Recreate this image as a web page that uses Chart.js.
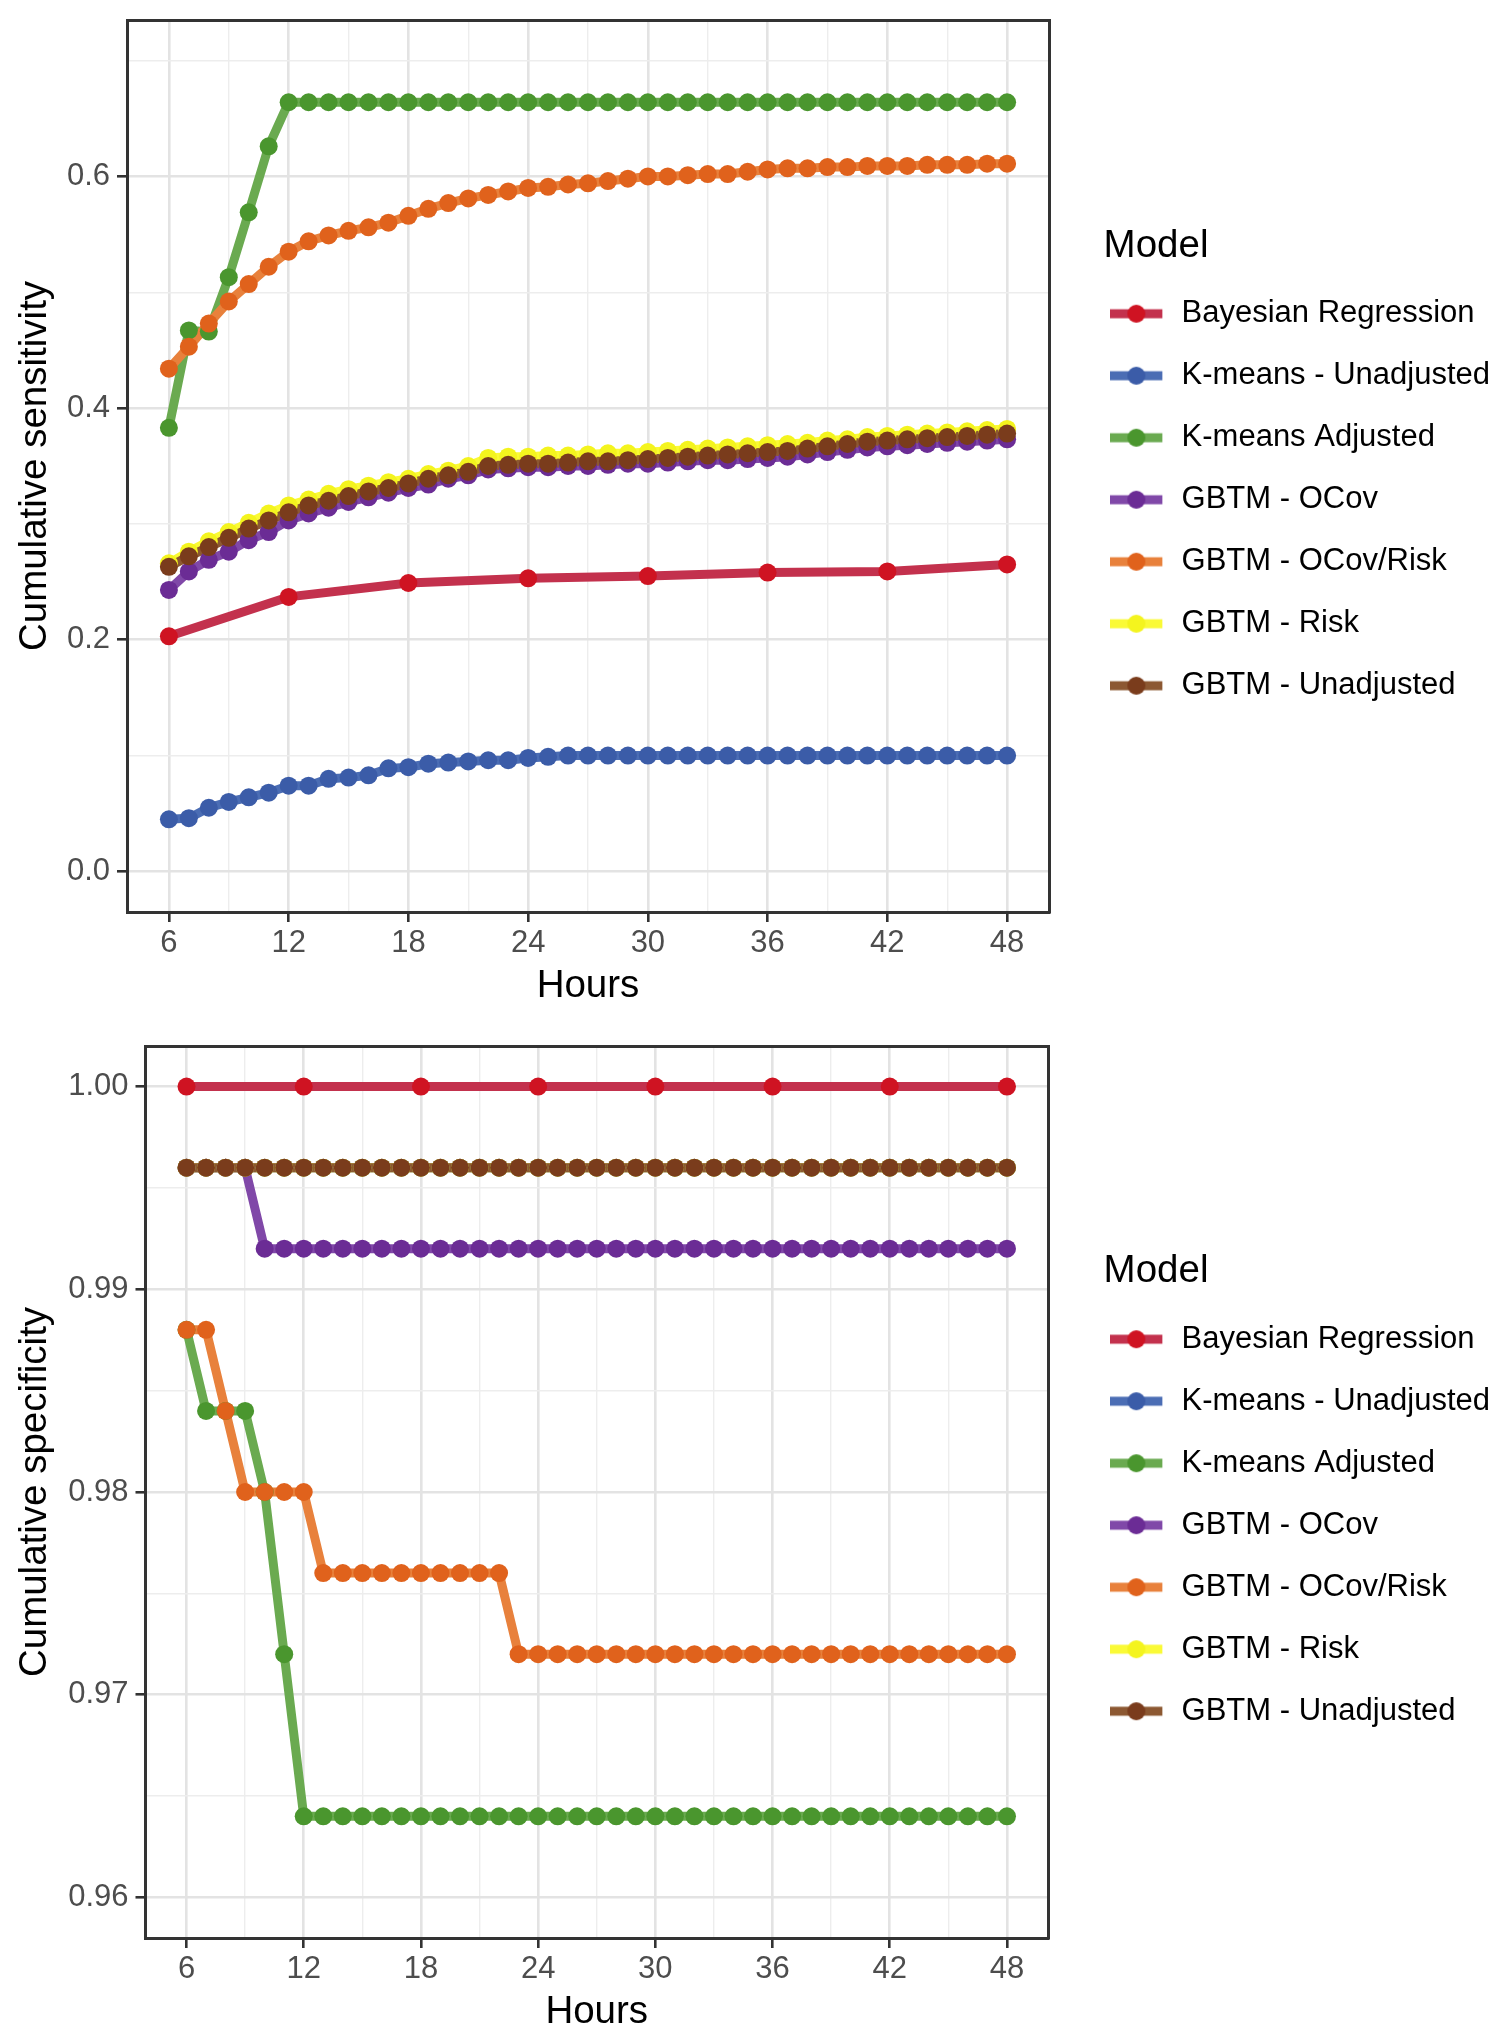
<!DOCTYPE html>
<html>
<head>
<meta charset="utf-8">
<title>Cumulative sensitivity and specificity by hour</title>
<script src="https://cdn.jsdelivr.net/npm/chart.js@4.4.1/dist/chart.umd.min.js"></script>
<style>
  html, body { margin: 0; padding: 0; background: #ffffff; }
  canvas { display: block; }
</style>
</head>
<body>
<canvas id="sensitivityChart" width="1500" height="1016"></canvas>
<canvas id="specificityChart" width="1500" height="1016"></canvas>
<script>
// hours on the x axis (Bayesian regression only has the 6-hour steps)
const hours = [6, 7, 8, 9, 10, 11, 12, 13, 14, 15, 16, 17, 18, 19, 20, 21, 22, 23, 24, 25,
  26, 27, 28, 29, 30, 31, 32, 33, 34, 35, 36, 37, 38, 39, 40, 41, 42, 43, 44, 45, 46, 47, 48];
const bayesHours = [6, 12, 18, 24, 30, 36, 42, 48];

const models = ["Bayesian Regression", "K-means - Unadjusted", "K-means Adjusted", "GBTM - OCov",
  "GBTM - OCov/Risk", "GBTM - Risk", "GBTM - Unadjusted"];
const pointColors = ["#CF1322", "#3B5CA8", "#4A962E", "#6B2C95", "#E0621C", "#F4F41E", "#7A3C1C"];
const lineColors = ["#C3314D", "#4B6DB4", "#6AAA50", "#8048A8", "#E8813C", "#FAFA36", "#8C5832"];

// cumulative sensitivity (top panel)
const sensBayes = [0.203, 0.237, 0.249, 0.253, 0.255, 0.258, 0.259, 0.265];
const sensKmUnadj = [
  0.045, 0.046, 0.055, 0.060, 0.064, 0.068, 0.074, 0.074, 0.080, 0.081,
  0.083, 0.089, 0.090, 0.093, 0.094, 0.095, 0.096, 0.096, 0.098, 0.099,
  0.100, 0.100, 0.100, 0.100, 0.100, 0.100, 0.100, 0.100, 0.100, 0.100,
  0.100, 0.100, 0.100, 0.100, 0.100, 0.100, 0.100, 0.100, 0.100, 0.100,
  0.100, 0.100, 0.100];
const sensKmAdj = [
  0.383, 0.467, 0.466, 0.513, 0.569, 0.626, 0.664, 0.664, 0.664, 0.664,
  0.664, 0.664, 0.664, 0.664, 0.664, 0.664, 0.664, 0.664, 0.664, 0.664,
  0.664, 0.664, 0.664, 0.664, 0.664, 0.664, 0.664, 0.664, 0.664, 0.664,
  0.664, 0.664, 0.664, 0.664, 0.664, 0.664, 0.664, 0.664, 0.664, 0.664,
  0.664, 0.664, 0.664];
const sensOCov = [
  0.243, 0.259, 0.269, 0.276, 0.286, 0.293, 0.303, 0.309, 0.314, 0.319,
  0.323, 0.327, 0.331, 0.334, 0.339, 0.342, 0.347, 0.348, 0.349, 0.349,
  0.350, 0.350, 0.351, 0.352, 0.352, 0.353, 0.354, 0.355, 0.355, 0.356,
  0.357, 0.358, 0.360, 0.362, 0.364, 0.366, 0.367, 0.368, 0.369, 0.370,
  0.371, 0.372, 0.373];
const sensOCovRisk = [
  0.434, 0.453, 0.473, 0.492, 0.507, 0.522, 0.535, 0.544, 0.549, 0.553,
  0.556, 0.560, 0.566, 0.572, 0.577, 0.581, 0.584, 0.587, 0.590, 0.591,
  0.593, 0.594, 0.596, 0.598, 0.600, 0.600, 0.601, 0.602, 0.602, 0.604,
  0.606, 0.607, 0.607, 0.608, 0.608, 0.609, 0.609, 0.609, 0.610, 0.610,
  0.610, 0.611, 0.611];
const sensRisk = [
  0.266, 0.276, 0.285, 0.293, 0.301, 0.309, 0.316, 0.321, 0.326, 0.330,
  0.333, 0.336, 0.339, 0.343, 0.346, 0.350, 0.357, 0.358, 0.358, 0.359,
  0.359, 0.360, 0.361, 0.361, 0.362, 0.363, 0.364, 0.365, 0.366, 0.367,
  0.368, 0.369, 0.370, 0.372, 0.373, 0.375, 0.376, 0.377, 0.378, 0.379,
  0.380, 0.381, 0.382];
const sensUnadj = [
  0.263, 0.272, 0.280, 0.288, 0.296, 0.303, 0.310, 0.316, 0.320, 0.324,
  0.328, 0.331, 0.335, 0.339, 0.342, 0.345, 0.350, 0.351, 0.352, 0.352,
  0.353, 0.354, 0.354, 0.355, 0.356, 0.357, 0.358, 0.359, 0.360, 0.361,
  0.362, 0.363, 0.365, 0.367, 0.369, 0.371, 0.372, 0.373, 0.374, 0.375,
  0.376, 0.377, 0.378];

// cumulative specificity (bottom panel)
const specBayes = [1.000, 1.000, 1.000, 1.000, 1.000, 1.000, 1.000, 1.000];
const specKmUnadj = [
  0.996, 0.996, 0.996, 0.996, 0.996, 0.996, 0.996, 0.996, 0.996, 0.996,
  0.996, 0.996, 0.996, 0.996, 0.996, 0.996, 0.996, 0.996, 0.996, 0.996,
  0.996, 0.996, 0.996, 0.996, 0.996, 0.996, 0.996, 0.996, 0.996, 0.996,
  0.996, 0.996, 0.996, 0.996, 0.996, 0.996, 0.996, 0.996, 0.996, 0.996,
  0.996, 0.996, 0.996];
const specKmAdj = [
  0.988, 0.984, 0.984, 0.984, 0.980, 0.972, 0.964, 0.964, 0.964, 0.964,
  0.964, 0.964, 0.964, 0.964, 0.964, 0.964, 0.964, 0.964, 0.964, 0.964,
  0.964, 0.964, 0.964, 0.964, 0.964, 0.964, 0.964, 0.964, 0.964, 0.964,
  0.964, 0.964, 0.964, 0.964, 0.964, 0.964, 0.964, 0.964, 0.964, 0.964,
  0.964, 0.964, 0.964];
const specOCov = [
  0.996, 0.996, 0.996, 0.996, 0.992, 0.992, 0.992, 0.992, 0.992, 0.992,
  0.992, 0.992, 0.992, 0.992, 0.992, 0.992, 0.992, 0.992, 0.992, 0.992,
  0.992, 0.992, 0.992, 0.992, 0.992, 0.992, 0.992, 0.992, 0.992, 0.992,
  0.992, 0.992, 0.992, 0.992, 0.992, 0.992, 0.992, 0.992, 0.992, 0.992,
  0.992, 0.992, 0.992];
const specOCovRisk = [
  0.988, 0.988, 0.984, 0.980, 0.980, 0.980, 0.980, 0.976, 0.976, 0.976,
  0.976, 0.976, 0.976, 0.976, 0.976, 0.976, 0.976, 0.972, 0.972, 0.972,
  0.972, 0.972, 0.972, 0.972, 0.972, 0.972, 0.972, 0.972, 0.972, 0.972,
  0.972, 0.972, 0.972, 0.972, 0.972, 0.972, 0.972, 0.972, 0.972, 0.972,
  0.972, 0.972, 0.972];
const specRisk = [
  0.996, 0.996, 0.996, 0.996, 0.996, 0.996, 0.996, 0.996, 0.996, 0.996,
  0.996, 0.996, 0.996, 0.996, 0.996, 0.996, 0.996, 0.996, 0.996, 0.996,
  0.996, 0.996, 0.996, 0.996, 0.996, 0.996, 0.996, 0.996, 0.996, 0.996,
  0.996, 0.996, 0.996, 0.996, 0.996, 0.996, 0.996, 0.996, 0.996, 0.996,
  0.996, 0.996, 0.996];
const specUnadj = [
  0.996, 0.996, 0.996, 0.996, 0.996, 0.996, 0.996, 0.996, 0.996, 0.996,
  0.996, 0.996, 0.996, 0.996, 0.996, 0.996, 0.996, 0.996, 0.996, 0.996,
  0.996, 0.996, 0.996, 0.996, 0.996, 0.996, 0.996, 0.996, 0.996, 0.996,
  0.996, 0.996, 0.996, 0.996, 0.996, 0.996, 0.996, 0.996, 0.996, 0.996,
  0.996, 0.996, 0.996];

// ticks
const xMajorTicks = [6, 12, 18, 24, 30, 36, 42, 48];
const xMinorTicks = [9, 15, 21, 27, 33, 39, 45];
const sensMajorTicks = [0, 0.2, 0.4, 0.6];
const sensMinorTicks = [0.1, 0.3, 0.5, 0.7];
const specMajorTicks = [0.96, 0.97, 0.98, 0.99, 1.00];
const specMinorTicks = [0.965, 0.975, 0.985, 0.995];

Chart.defaults.font.family = '"Liberation Sans", Arial, Helvetica, sans-serif';

const TICK_FONT = 31;
const TITLE_FONT = 38.5;
const CANVAS_H = 1016;
const LINE_W = 9;
const POINT_R = 9;
const KEY_LEN = 52;
const KEY_CANVAS_W = 80;
const LEGEND_BOX_W = 31.5;

function isIn(list, v) {
  return list.some((m) => Math.abs(m - v) < 1e-9);
}

function makeKey(i) {
  const c = document.createElement("canvas");
  c.width = KEY_CANVAS_W;
  c.height = 24;
  const g = c.getContext("2d");
  g.strokeStyle = lineColors[i];
  g.lineWidth = LINE_W;
  g.beginPath();
  g.moveTo(0, 12);
  g.lineTo(KEY_LEN, 12);
  g.stroke();
  g.fillStyle = pointColors[i];
  g.beginPath();
  g.arc(KEY_LEN / 2, 12, POINT_R, 0, Math.PI * 2);
  g.fill();
  return c;
}
const keyImages = models.map((m, i) => makeKey(i));

function gridFor(major) {
  const on = (c) => c.tick && isIn(major, c.tick.value);
  return {
    color: (c) => on(c) ? "#E3E3E3" : "#EDEDED",
    lineWidth: (c) => on(c) ? 2.6 : 1.4,
    tickColor: (c) => on(c) ? "#333333" : "rgba(0,0,0,0)",
    tickWidth: 2.6,
    tickLength: 10,
    drawTicks: true
  };
}

const panelBorder = { display: true, color: "#333333", width: 3 };

function noPadding(s) {
  s.paddingTop = 0;
  s.paddingBottom = 0;
  s.paddingLeft = 0;
  s.paddingRight = 0;
}

function drawPanel(canvasId, cfg) {
  const { series, yTitle, yMin, yMax, yMajor, yMinor, digits, panel } = cfg;
  const datasets = [];
  series.forEach((ys, i) => {
    const xs = i === 0 ? bayesHours : hours;
    const pts = xs.map((x, j) => ({ x: x, y: ys[j] }));
    // lines underneath, points on top (like geom_line + geom_point)
    datasets.push({
      label: models[i], data: pts, borderColor: lineColors[i], backgroundColor: lineColors[i],
      borderWidth: LINE_W, pointRadius: 0, pointHoverRadius: 0, tension: 0, fill: false, order: 20 - i
    });
    datasets.push({
      label: models[i], data: pts, showLine: false, pointRadius: POINT_R, pointHoverRadius: POINT_R,
      pointBorderWidth: 0, pointBackgroundColor: pointColors[i], pointBorderColor: pointColors[i],
      order: 10 - i
    });
  });

  const yTicks = yMajor.concat(yMinor).sort((a, b) => a - b);
  const xTicks = xMajorTicks.concat(xMinorTicks).sort((a, b) => a - b);

  const chart = new Chart(document.getElementById(canvasId), {
    type: "line",
    data: { datasets },
    options: {
      responsive: false,
      devicePixelRatio: 1,
      animation: false,
      events: [],
      layout: { padding: 0, autoPadding: false },
      scales: {
        x: {
          type: "linear", position: "bottom", min: 3.9, max: 50.1,
          afterBuildTicks: (s) => { s.ticks = xTicks.map((v) => ({ value: v })); },
          afterFit: (s) => { s.height = CANVAS_H - panel.bottom; noPadding(s); },
          grid: gridFor(xMajorTicks),
          border: panelBorder,
          ticks: {
            autoSkip: false, maxRotation: 0, padding: 5.5, color: "#4D4D4D",
            font: { size: TICK_FONT, lineHeight: 1 },
            callback: (v) => isIn(xMajorTicks, v) ? String(v) : ""
          },
          title: {
            display: true, text: "Hours", color: "#000000",
            font: { size: TITLE_FONT, lineHeight: 1 },
            padding: { top: 0, bottom: panel.xTitleGap }
          }
        },
        x2: {
          type: "linear", position: "top", min: 3.9, max: 50.1,
          afterFit: (s) => { s.height = panel.top; noPadding(s); },
          grid: { display: false },
          border: panelBorder,
          ticks: { display: false }
        },
        y: {
          type: "linear", position: "left", min: yMin, max: yMax,
          afterBuildTicks: (s) => { s.ticks = yTicks.map((v) => ({ value: v })); },
          afterFit: (s) => { s.width = panel.left; noPadding(s); },
          grid: gridFor(yMajor),
          border: panelBorder,
          ticks: {
            autoSkip: false, padding: 7, color: "#4D4D4D",
            font: { size: TICK_FONT, lineHeight: 1 },
            callback: (v) => isIn(yMajor, v) ? v.toFixed(digits) : ""
          },
          title: {
            display: true, text: yTitle, color: "#000000",
            font: { size: TITLE_FONT, lineHeight: 1 },
            padding: { top: 15.75, bottom: 0 }
          }
        },
        y2: {
          type: "linear", position: "right", min: yMin, max: yMax,
          afterFit: (s) => {
            const lg = s.chart.legend;
            s.width = lg && lg.left > 0 ? Math.max(0, lg.left - panel.right) : 55;
            noPadding(s);
          },
          grid: { display: false },
          border: panelBorder,
          ticks: { display: false }
        }
      },
      plugins: {
        tooltip: { enabled: false },
        legend: {
          position: "right",
          align: "start",
          maxWidth: 600,
          labels: {
            usePointStyle: true,
            pointStyleWidth: LEGEND_BOX_W,
            padding: 31,
            color: "#000000",
            font: { size: TICK_FONT, lineHeight: 1 },
            generateLabels: () => models.map((name, i) => ({
              text: name,
              pointStyle: keyImages[i],
              fillStyle: pointColors[i],
              strokeStyle: pointColors[i],
              lineWidth: 0,
              hidden: false,
              datasetIndex: 2 * i
            }))
          },
          title: {
            display: true, text: "Model", color: "#000000", position: "start",
            font: { size: TITLE_FONT, lineHeight: 1 },
            padding: { top: panel.legendTitleTop, bottom: 2 }
          }
        }
      }
    }
  });
  // second pass so the plot's right edge sits where the legend leaves it
  chart.update("none");
  return chart;
}

drawPanel("sensitivityChart", {
  series: [sensBayes, sensKmUnadj, sensKmAdj, sensOCov, sensOCovRisk, sensRisk, sensUnadj],
  yTitle: "Cumulative sensitivity",
  yMin: -0.035, yMax: 0.735,
  yMajor: sensMajorTicks, yMinor: sensMinorTicks, digits: 1,
  panel: { left: 127, right: 1049, top: 20, bottom: 912, xTitleGap: 10.75, legendTitleTop: 226.75 }
});

drawPanel("specificityChart", {
  series: [specBayes, specKmUnadj, specKmAdj, specOCov, specOCovRisk, specRisk, specUnadj],
  yTitle: "Cumulative specificity",
  yMin: 0.958, yMax: 1.002,
  yMajor: specMajorTicks, yMinor: specMinorTicks, digits: 2,
  panel: { left: 145.5, right: 1048, top: 30, bottom: 922, xTitleGap: 0.75, legendTitleTop: 236.25 }
});
</script>
</body>
</html>
